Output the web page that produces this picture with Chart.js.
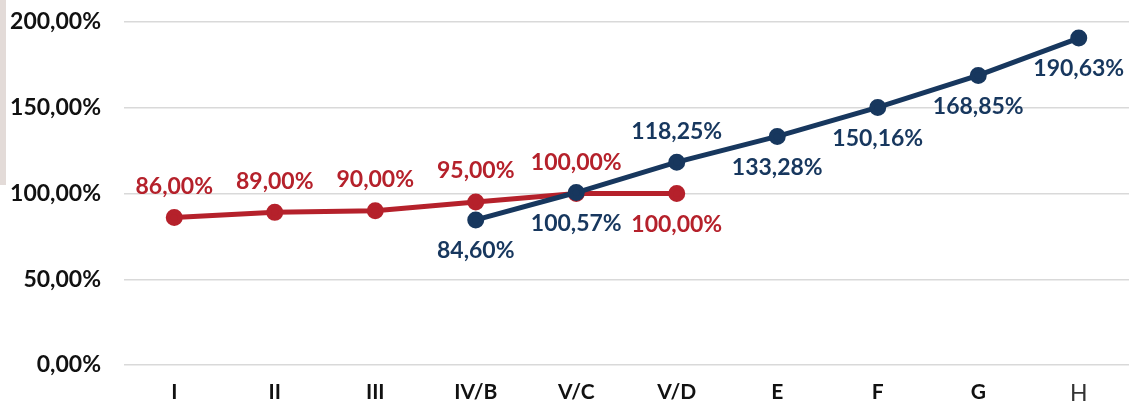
<!DOCTYPE html>
<html>
<head>
    <meta charset="UTF-8">
    <title>Line chart</title>
    <script src="https://cdn.jsdelivr.net/npm/chart.js"></script>
    <style>
        html, body {
            margin: 0;
            padding: 0;
            background: #fff;
        }
        .wrap {
            position: relative;
            width: 1141px;
            height: 403px;
        }
        .side {
            position: absolute;
            left: 0;
            top: 0;
            width: 6px;
            height: 185px;
            background: #e3dbd8;
        }
    </style>
</head>
<body>

<div class="wrap">
    <div class="side"></div>
    <canvas id="myChart" width="1141" height="403"></canvas>
</div>

<script>
    const categories = ['I', 'II', 'III', 'IV/B', 'V/C', 'V/D', 'E', 'F', 'G', 'H'];
    const redValues  = [86, 89, 90, 95, 100, 100, null, null, null, null];
    const blueValues = [null, null, null, 84.60, 100.57, 118.25, 133.28, 150.16, 168.85, 190.63];
    // where each value label sits: 'a' above, 'b' below
    const redLabelPos  = ['a', 'a', 'a', 'a', 'a', 'b', null, null, null, null];
    const blueLabelPos = [null, null, null, 'b', 'b', 'a', 'b', 'b', 'b', 'b'];
    const yTicks = [0, 50, 100, 150, 200];

    const RED = '#b5212b';
    const BLUE = '#17375e';
    const FONT = 'Lato, "Open Sans", sans-serif';

    function fmt(v) {
        return v.toFixed(2).replace('.', ',') + '%';
    }

    const labelPlugin = {
        id: 'valueLabels',
        afterDatasetsDraw(chart) {
            const ctx = chart.ctx;
            ctx.save();
            ctx.font = 'bold 23px ' + FONT;
            ctx.textAlign = 'center';
            ctx.textBaseline = 'middle';
            chart.data.datasets.forEach((ds, i) => {
                const meta = chart.getDatasetMeta(i);
                meta.data.forEach((pt, j) => {
                    const v = ds.data[j];
                    if (v == null) return;
                    const off = ds.labelPos[j] === 'a' ? -31 : 31;
                    ctx.fillStyle = ds.borderColor;
                    ctx.fillText(fmt(v), pt.x, pt.y + off);
                });
            });
            ctx.restore();
        }
    };

    const config = {
        type: 'line',
        data: {
            labels: categories,
            datasets: [{
                data: redValues,
                labelPos: redLabelPos,
                borderColor: RED,
                backgroundColor: RED,
                borderWidth: 5,
                pointRadius: 6,
                pointHoverRadius: 6,
                order: 1
            }, {
                data: blueValues,
                labelPos: blueLabelPos,
                borderColor: BLUE,
                backgroundColor: BLUE,
                borderWidth: 5,
                pointRadius: 6,
                pointHoverRadius: 6,
                order: 0
            }]
        },
        options: {
            responsive: false,
            animation: false,
            layout: {
                padding: { top: 22, right: 12, left: 0, bottom: 0 }
            },
            plugins: {
                legend: { display: false },
                tooltip: { enabled: false }
            },
            scales: {
                x: {
                    offset: true,
                    grid: { display: false, drawTicks: false, offset: true },
                    border: { display: false },
                    afterFit(scale) { scale.height = 38; },
                    ticks: {
                        padding: 15,
                        color: ctx => ctx.tick.label === 'H' ? '#333' : '#111',
                        font: ctx => ctx.tick.label === 'H'
                            ? { family: FONT, size: 23, weight: 'normal' }
                            : { family: FONT, size: 21, weight: 'bold' }
                    }
                },
                y: {
                    min: 0,
                    max: 200,
                    afterFit(scale) {
                        scale.width = 124;
                        scale.paddingTop = 0;
                        scale.paddingBottom = 0;
                    },
                    afterBuildTicks(scale) {
                        scale.ticks = yTicks.map(v => ({ value: v }));
                    },
                    grid: { color: '#d9d9d9', lineWidth: 1.5, drawTicks: false },
                    border: { display: false },
                    ticks: {
                        padding: 23,
                        color: '#111',
                        font: { family: FONT, size: 23, weight: 'bold' },
                        callback: v => fmt(v)
                    }
                }
            }
        },
        plugins: [labelPlugin]
    };

    const ctx = document.getElementById('myChart').getContext('2d');
    new Chart(ctx, config);
</script>

</body>
</html>
